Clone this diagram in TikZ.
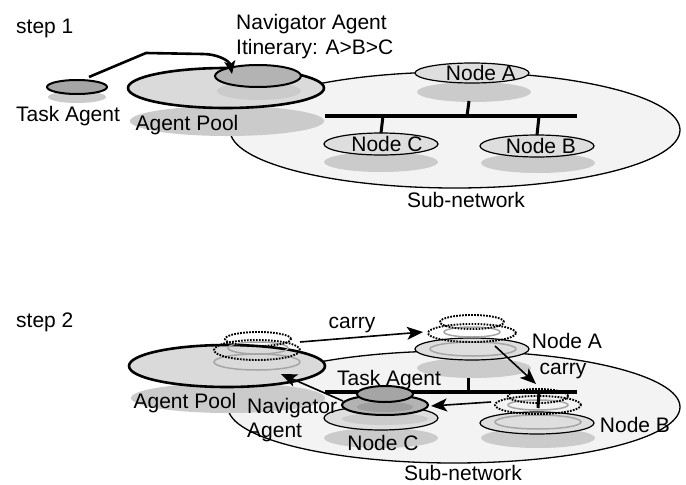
\documentclass[tikz,border=0pt]{standalone}
\usepackage{fontspec}
\setmainfont{Liberation Sans}
\usetikzlibrary{shapes.geometric,arrows.meta}
\definecolor{subfill}{HTML}{F3F3F3}
\definecolor{poolfill}{HTML}{DADADA}
\definecolor{shadowc}{HTML}{CBCBCB}
\definecolor{nodefill}{HTML}{DEDEDE}
\definecolor{navfill}{HTML}{B3B3B3}
\definecolor{taskfill}{HTML}{A5A5A5}
\definecolor{innerc}{HTML}{9E9E9E}
\definecolor{ringc}{HTML}{A6A6A6}
\begin{document}
\begin{tikzpicture}[x=1pt,y=-1pt,
  shell/.style 2 args={ellipse, minimum width=#1pt, minimum height=#2pt, inner sep=0pt, outer sep=0pt},
  subnet/.style={fill=subfill, draw=black, line width=1.3pt},
  shade/.style={fill=shadowc, draw=none},
  pool/.style={fill=poolfill, draw=black, line width=2.6pt},
  netnode/.style={fill=nodefill, draw=black, line width=1.2pt},
  nav/.style={fill=navfill, draw=black, line width=2pt},
  task/.style={fill=taskfill, draw=black, line width=2pt},
  innershade/.style={fill=innerc, draw=none},
  ring/.style={draw=ringc, line width=1.5pt},
  ghost/.style={draw=black, line width=1.9pt, dash pattern=on 1.7pt off 1.3pt},
  bus/.style={line width=3.4pt},
  stub/.style={line width=3pt},
  lbl/.style={font=\fontsize{21}{25}\selectfont, inner sep=0pt},
  arrbig/.style={line width=2.6pt, -{Stealth[length=13pt,width=11pt,inset=3pt]}},
  arr/.style={line width=1.6pt, -{Stealth[length=16pt,width=13pt,inset=4pt]}}
]
\useasboundingbox (0,0) rectangle (686,485);

% ================= step 1 =================
\node[shell={450}{116}, subnet] (sub1) at (455,130) {};
\node[shell={114}{20}, shade] (shA1) at (474,92) {};
\node[shell={114}{20}, shade] (shC1) at (381,162) {};
\node[shell={114}{20}, shade] (shB1) at (538,163) {};
\coordinate (bus1l) at (325,116);
\coordinate (bus1r) at (577,116);
\draw[bus] (bus1l) -- (bus1r);
\coordinate (j1a) at (467,116);
\coordinate (t1a) at (469,101);
\coordinate (j1c) at (383,116);
\coordinate (j1b) at (539,116);
\node[shell={114}{20}, netnode] (NA1) at (472,73) {};
\node[shell={114}{22}, netnode] (NC1) at (381,144) {};
\node[shell={114}{22}, netnode] (NB1) at (537,146) {};
\draw[stub] (j1a) -- (t1a);
\draw[stub] (j1c) -- (NC1.north);
\draw[stub] (j1b) -- (NB1.north);
\node[shell={194}{30}, shade] (shP1) at (227,121) {};
\node[shell={196}{40}, pool] (P1) at (226,88) {};
\node[shell={84}{18}, shade] (shN1) at (259,91) {};
\node[shell={86}{22}, nav] (N1) at (258,76) {};
\node[shell={58}{12}, shade] (shT1) at (77,97) {};
\node[shell={60}{14}, task] (T1) at (77,87) {};
\coordinate (a1s) at (89,77);
\coordinate (a1b) at (146,53);
\coordinate (a1c) at (203,54);
\coordinate (a1e) at (232,74);
\draw[arrbig] (a1s) -- (a1b) -- (a1c) to[out=0,in=100] (a1e);

\node[lbl, anchor=base west] (s1) at (16,33) {step 1};
\node[lbl, anchor=base] (tal1) at (68,121) {Task Agent};
\node[lbl, anchor=base] (apl1) at (187,130) {Agent Pool};
\node[lbl, anchor=base west] (navl1) at (236,29) {Navigator Agent};
\node[lbl, anchor=base west] (itin1) at (236,54) {Itinerary: A>B>C};
\node[lbl, anchor=base] (nal1) at (481,80) {Node A};
\node[lbl, anchor=base] (ncl1) at (387,151) {Node C};
\node[lbl, anchor=base] (nbl1) at (541,153) {Node B};
\node[lbl, anchor=base] (subl1) at (466,207) {Sub-network};

% ================= step 2 =================
\node[shell={452}{112}, subnet] (sub2) at (454,407) {};
\node[shell={114}{20}, shade] (shA2) at (474,368) {};
\node[shell={114}{20}, shade] (shB2) at (538,438) {};
\node[shell={114}{20}, shade] (shC2) at (381,438) {};
\node[shell={114}{22}, netnode] (NA2) at (472,349) {};
\node[shell={114}{22}, netnode] (NB2) at (537,423) {};
\node[shell={114}{24}, netnode] (NC2) at (381,418) {};
\node[shell={86}{12}, shade] (inC2) at (385,419) {};
\node[shell={194}{30}, shade] (shP2) at (228,398) {};
\node[shell={196}{42}, pool] (P2) at (227,366) {};

% ghosts on the agent pool
\node[shell={86}{16}, ring] (grP) at (257,362) {};
\node[shell={60}{12}, ring] (grPs) at (258,348) {};
\node[shell={86}{20}, ghost] (gdP) at (257,350) {};
\node[shell={66}{14}, ghost] (gdPs) at (258,339) {};
% ghosts on node A
\node[shell={86}{14}, ring] (grA) at (473,349) {};
\node[shell={56}{10}, ring] (grAs) at (472,332) {};
\node[shell={88}{18}, ghost] (gdA) at (472,333) {};
\node[shell={64}{14}, ghost] (gdAs) at (472,322) {};
% ghosts on node B
\node[shell={86}{14}, ring] (grB) at (538,422) {};
\node[shell={60}{10}, ring] (grBs) at (538,405) {};
\node[shell={86}{18}, ghost] (gdB) at (538,405) {};
\node[shell={60}{14}, ghost] (gdBs) at (538,396) {};

\coordinate (bus2l) at (325,392);
\coordinate (bus2r) at (577,392);
\draw[bus] (bus2l) -- (bus2r);
\coordinate (j2a) at (468,393);
\coordinate (t2a) at (468,378);
\coordinate (j2b) at (539,392);
\coordinate (t2b) at (538,408);
\draw[stub] (j2a) -- (t2a);
\draw[stub] (j2b) -- (t2b);

\node[shell={86}{20}, nav] (N2) at (385,405) {};
\node[shell={56}{10}, innershade] (inN2) at (385,407) {};
\node[shell={56}{16}, task] (T2) at (385,394) {};

\coordinate (c1s) at (300,342);
\coordinate (c1e) at (423,332);
\draw[arr] (c1s) -- (c1e);
\coordinate (c2s) at (495,346);
\coordinate (c2e) at (536,384);
\draw[arr] (c2s) -- (c2e);
\coordinate (bks) at (491,402);
\coordinate (bke) at (431,406);
\draw[arr] (bks) -- (bke);
\coordinate (bps) at (343,401);
\coordinate (bpe) at (281,374);
\draw[arr] (bps) -- (bpe);

\node[lbl, anchor=base west] (s2) at (16,327) {step 2};
\node[lbl, anchor=base] (cl1) at (352,328) {carry};
\node[lbl, anchor=base] (cl2) at (563,374) {carry};
\node[lbl, anchor=base] (nal2) at (567,348) {Node A};
\node[lbl, anchor=base] (tal2) at (389,385) {Task Agent};
\node[lbl, anchor=base] (apl2) at (185,408) {Agent Pool};
\node[lbl, anchor=base west] (navl2) at (247,413) {Navigator};
\node[lbl, anchor=base west] (agl2) at (247,437) {Agent};
\node[lbl, anchor=base] (ncl2) at (383,450) {Node C};
\node[lbl, anchor=base] (nbl2) at (635,432) {Node B};
\node[lbl, anchor=base] (subl2) at (463,480) {Sub-network};
\end{tikzpicture}
\end{document}
